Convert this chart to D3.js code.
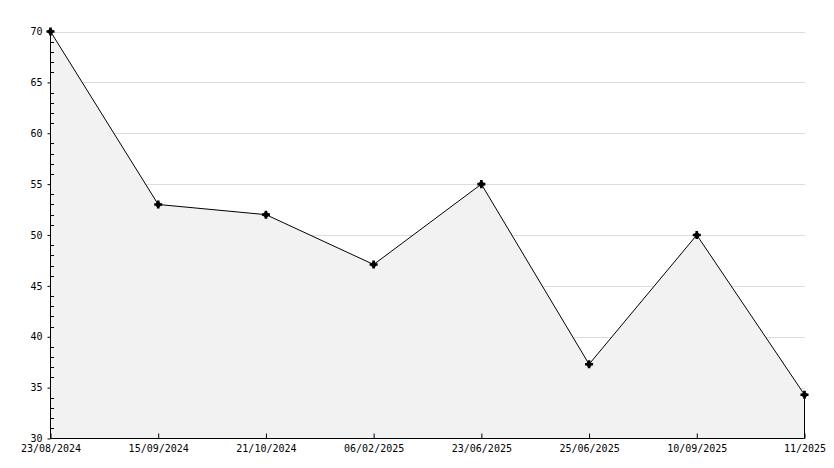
<!DOCTYPE html>
<html><head><meta charset="utf-8">
<script src="https://cdn.jsdelivr.net/npm/d3@7"></script>
<style>body{margin:0;background:#fff}svg{display:block}text{font-family:"DejaVu Sans Mono",monospace;font-size:10px;fill:#000}</style>
</head><body>
<script>
const categories = ["23/08/2024","15/09/2024","21/10/2024","06/02/2025","23/06/2025","25/06/2025","10/09/2025","11/2025"];
const values = [70, 53, 52, 47.1, 55, 37.3, 50, 34.3];
const yTicks = [30, 35, 40, 45, 50, 55, 60, 65, 70];

const W = 834, H = 468;
const svg = d3.select("body").append("svg").attr("width", W).attr("height", H);
const x = d3.scalePoint().domain(categories).range([50.5, 804.5]);
const y = d3.scaleLinear().domain([30, 70]).range([438.5, 31.5]);
const font = "DejaVu Sans Mono";

// grid
svg.append("g").selectAll("line").data(yTicks.slice(1)).join("line")
  .attr("x1", 50).attr("x2", 805).attr("y1", d => Math.round(y(d)) + 0.5).attr("y2", d => Math.round(y(d)) + 0.5)
  .attr("stroke", "#dcdcdc");

const pts = categories.map((c, i) => ({c, v: values[i]}));
svg.append("path").datum(pts)
  .attr("d", d3.area().x(d => x(d.c)).y0(y(30)).y1(d => y(d.v)))
  .attr("fill", "#f2f2f2");
svg.append("path").datum(pts)
  .attr("d", d3.line().x(d => x(d.c)).y(d => y(d.v)))
  .attr("fill", "none").attr("stroke", "#000").attr("stroke-width", 1);
// right edge drop line
svg.append("line").attr("x1", x(categories[categories.length-1])).attr("x2", x(categories[categories.length-1]))
  .attr("y1", y(values[values.length-1])).attr("y2", y(30)).attr("stroke", "#000");

// y axis
const yAxis = svg.append("g").attr("transform", "translate(50.5,0)")
  .call(d3.axisLeft(y).tickValues(yTicks).tickSize(3).tickPadding(5));
yAxis.select(".domain").remove();
yAxis.selectAll("text").style("font-family", font).style("font-size", "10px");
// minor ticks
const minor = d3.range(30, 71).filter(v => v % 5 !== 0);
svg.append("g").selectAll("line").data(minor).join("line")
  .attr("x1", 50).attr("x2", 54).attr("y1", d => Math.round(y(d)) + 0.5).attr("y2", d => Math.round(y(d)) + 0.5)
  .attr("stroke", "#000");
svg.append("line").attr("x1", 50.5).attr("x2", 50.5).attr("y1", y(70)).attr("y2", y(30)).attr("stroke", "#000");

// x axis
const xAxis = svg.append("g").attr("transform", "translate(0,438.5)")
  .call(d3.axisBottom(x).tickSizeInner(-5).tickSizeOuter(0).tickPadding(6));
xAxis.select(".domain").attr("d", `M${x(categories[0])},0H${x(categories[categories.length-1])}`);
xAxis.selectAll("text").style("font-family", font).style("font-size", "10px");

// markers
const mk = svg.append("g").selectAll("g").data(pts).join("g")
  .attr("transform", d => `translate(${x(d.c)},${y(d.v)})`);
mk.append("circle").attr("r", 2.6).attr("fill", "#000");
mk.append("path").attr("d", d3.symbol().type(d3.symbolCross).size(36)).attr("fill", "#000");
</script>
</body></html>
